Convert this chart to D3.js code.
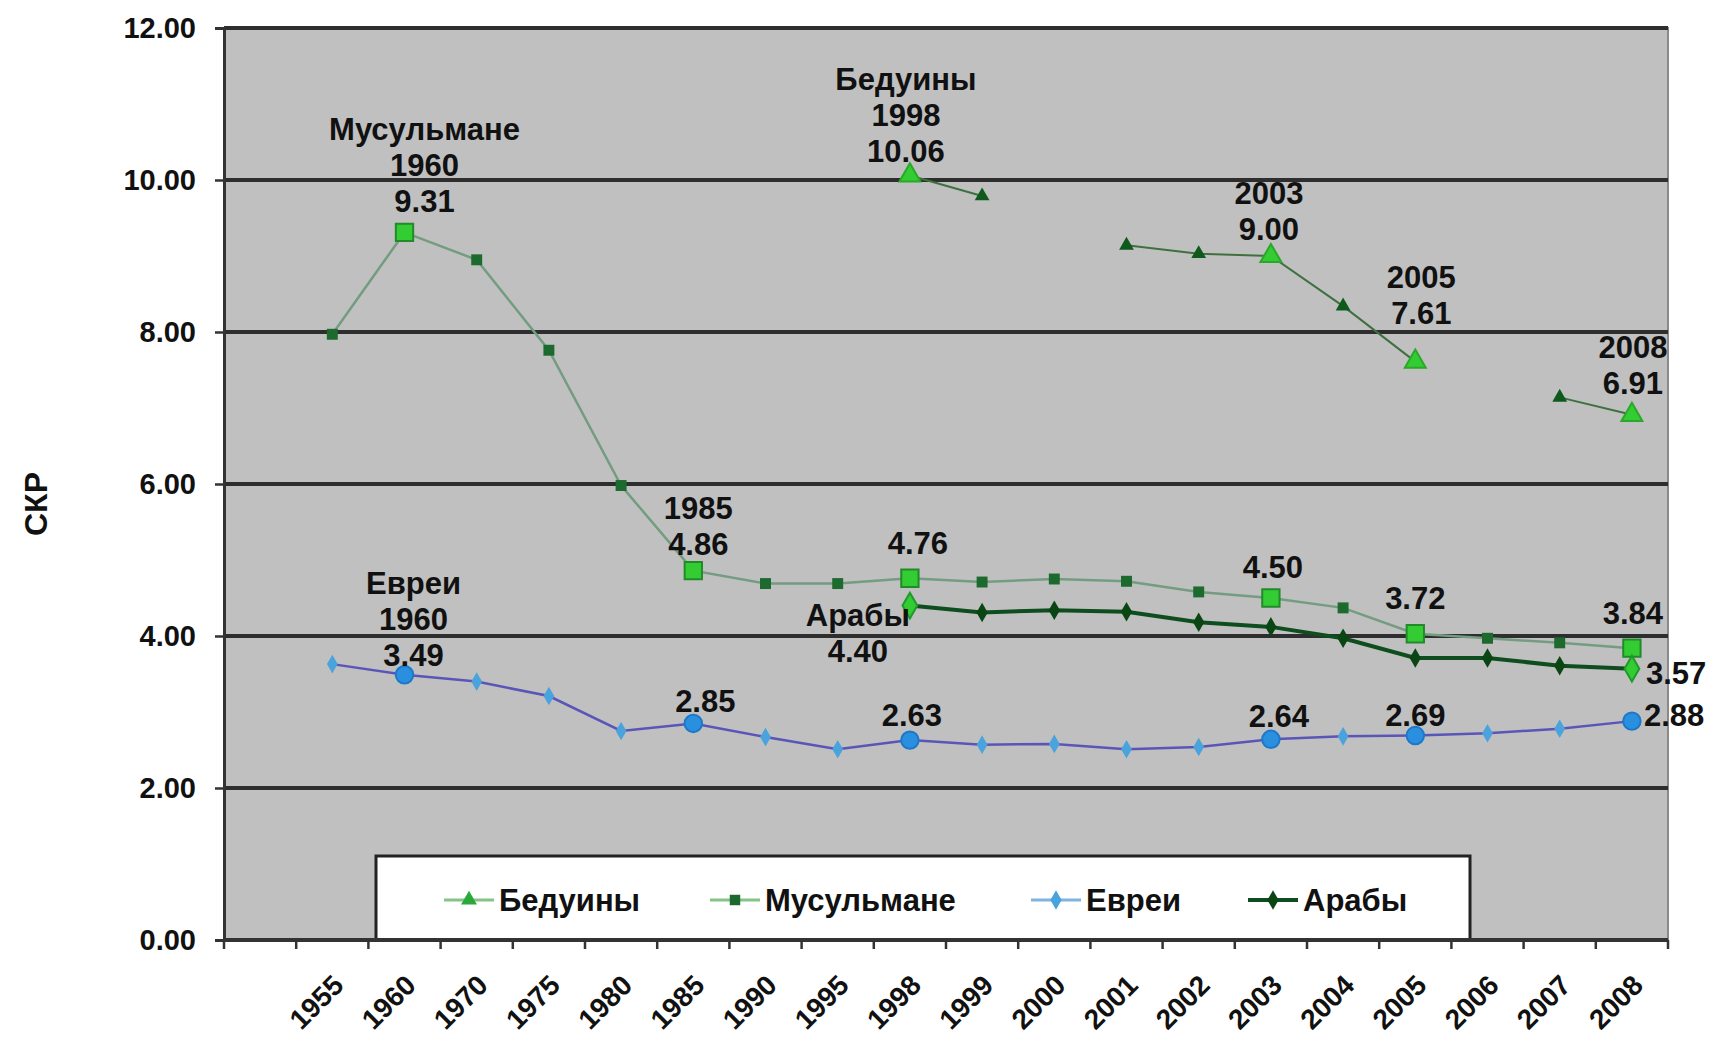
<!DOCTYPE html>
<html>
<head>
<meta charset="utf-8">
<script src="https://cdn.jsdelivr.net/npm/d3@7"></script>
<style>
body { margin: 0; background: #fff; }
text { font-family: "Liberation Sans", Arial, sans-serif; font-weight: bold; fill: #111; }
</style>
</head>
<body>
<svg width="1710" height="1040"></svg>
<script>
// first category is empty, as in the original sheet
const years = ["", "1955", "1960", "1970", "1975", "1980", "1985", "1990", "1995", "1998", "1999",
	"2000", "2001", "2002", "2003", "2004", "2005", "2006", "2007", "2008"];

const bedouins = [null, null, null, null, null, null, null, null, null, 10.06, 9.79,
	null, 9.14, 9.03, 9.00, 8.34, 7.61, null, 7.14, 6.91];
const muslims = [null, 7.97, 9.31, 8.95, 7.76, 5.98, 4.86, 4.69, 4.69, 4.76, 4.71,
	4.75, 4.72, 4.58, 4.50, 4.37, 4.03, 3.97, 3.91, 3.84];
const jews = [null, 3.63, 3.49, 3.40, 3.21, 2.75, 2.85, 2.67, 2.51, 2.63, 2.57,
	2.58, 2.51, 2.54, 2.64, 2.68, 2.69, 2.72, 2.78, 2.88];
const arabs = [null, null, null, null, null, null, null, null, null, 4.40, 4.31,
	4.34, 4.32, 4.18, 4.12, 3.97, 3.71, 3.71, 3.61, 3.57];

const yTicks = [0, 2, 4, 6, 8, 10, 12];

const series = [
	{ name: "Бедуины", values: bedouins, shape: d3.symbolTriangle, bigShape: d3.symbolTriangle, line: "#3f7040", lw: 2,
		mark: "#0d5a1c", hi: "#33cc33", hiStroke: "#2aa82a", big: ["1998", "2003", "2005", "2008"] },
	{ name: "Мусульмане", values: muslims, shape: d3.symbolSquare, bigShape: d3.symbolSquare, line: "#739c80", lw: 2.5,
		mark: "#1d6a2e", hi: "#33cc33", hiStroke: "#238a2a", big: ["1960", "1985", "1998", "2003", "2005", "2008"] },
	{ name: "Евреи", values: jews, shape: d3.symbolDiamond, bigShape: d3.symbolCircle, line: "#5a55b8", lw: 2.5,
		mark: "#4aa3dc", hi: "#2b8fe0", hiStroke: "#1c78c8", big: ["1960", "1985", "1998", "2003", "2005", "2008"] },
	{ name: "Арабы", values: arabs, shape: d3.symbolDiamond, bigShape: d3.symbolDiamond, line: "#0e4d1e", lw: 4,
		mark: "#0a4514", hi: "#33cc33", hiStroke: "#1f9a2a", big: ["1998", "2008"] }
];

// data labels: series, category, text lines, offset of the first line centre from the point
const notes = [
	{ s: "Мусульмане", year: "1960", lines: ["Мусульмане", "1960", "9.31"], dx: 20, dy: -104 },
	{ s: "Бедуины", year: "1998", lines: ["Бедуины", "1998", "10.06"], dx: -4, dy: -97 },
	{ s: "Бедуины", year: "2003", lines: ["2003", "9.00"], dx: -2, dy: -63 },
	{ s: "Бедуины", year: "2005", lines: ["2005", "7.61"], dx: 6, dy: -85 },
	{ s: "Бедуины", year: "2008", lines: ["2008", "6.91"], dx: 1, dy: -68 },
	{ s: "Мусульмане", year: "1985", lines: ["1985", "4.86"], dx: 5, dy: -63 },
	{ s: "Мусульмане", year: "1998", lines: ["4.76"], dx: 8, dy: -35 },
	{ s: "Мусульмане", year: "2003", lines: ["4.50"], dx: 2, dy: -31 },
	{ s: "Мусульмане", year: "2005", lines: ["3.72"], dx: 0, dy: -36 },
	{ s: "Мусульмане", year: "2008", lines: ["3.84"], dx: 1, dy: -35 },
	{ s: "Арабы", year: "1998", lines: ["Арабы", "4.40"], dx: -52, dy: 9 },
	{ s: "Арабы", year: "2008", lines: ["3.57"], dx: 14, dy: 4, anchor: "start" },
	{ s: "Евреи", year: "1960", lines: ["Евреи", "1960", "3.49"], dx: 9, dy: -92 },
	{ s: "Евреи", year: "1985", lines: ["2.85"], dx: 12, dy: -23 },
	{ s: "Евреи", year: "1998", lines: ["2.63"], dx: 2, dy: -25 },
	{ s: "Евреи", year: "2003", lines: ["2.64"], dx: 8, dy: -24 },
	{ s: "Евреи", year: "2005", lines: ["2.69"], dx: 0, dy: -21 },
	{ s: "Евреи", year: "2008", lines: ["2.88"], dx: 12, dy: -6, anchor: "start" }
];

const plotLeft = 224, plotRight = 1668, plotTop = 28, plotBottom = 940;

const svg = d3.select("svg");

const x = d3.scaleBand()
	.domain(years)
	.range([plotLeft, plotRight]);

const y = d3.scaleLinear()
	.domain([0, 12])
	.range([plotBottom, plotTop]);

const cx = yr => x(yr) + x.bandwidth() / 2;

// plot area
svg.append("rect")
	.attr("x", plotLeft)
	.attr("y", plotTop)
	.attr("width", plotRight - plotLeft)
	.attr("height", plotBottom - plotTop)
	.attr("fill", "#c0c0c0")
	.attr("stroke", "#8a8a8a")
	.attr("stroke-width", 2);

svg.append("g")
	.selectAll("line")
	.data(yTicks.filter(d => d > 0))
	.join("line")
	.attr("x1", plotLeft)
	.attr("x2", plotRight)
	.attr("y1", d => y(d))
	.attr("y2", d => y(d))
	.attr("stroke", "#2e2e2e")
	.attr("stroke-width", 4);

// legend box sits on the plot
const legend = svg.append("g");
legend.append("rect")
	.attr("x", 376)
	.attr("y", 856)
	.attr("width", 1094)
	.attr("height", 84)
	.attr("fill", "#fff")
	.attr("stroke", "#222")
	.attr("stroke-width", 3);

// y axis
const yAxis = svg.append("g")
	.attr("transform", `translate(${plotLeft},0)`)
	.call(d3.axisLeft(y).tickValues(yTicks).tickFormat(d3.format(".2f")).tickSize(9).tickPadding(19));
yAxis.select(".domain").attr("stroke", "#333").attr("stroke-width", 3);
yAxis.selectAll(".tick line").attr("stroke", "#333").attr("stroke-width", 2.5);
yAxis.selectAll(".tick text")
	.attr("fill", "#111")
	.style("font-size", "29px")
	.style("font-family", "'Liberation Sans', Arial, sans-serif")
	.style("font-weight", "bold");

// x axis: ticks between categories, rotated labels
const bounds = years.map(d => x(d)).concat([plotRight]);
svg.append("line")
	.attr("x1", plotLeft)
	.attr("x2", plotRight)
	.attr("y1", plotBottom)
	.attr("y2", plotBottom)
	.attr("stroke", "#333")
	.attr("stroke-width", 4);
svg.append("g")
	.selectAll("line")
	.data(bounds)
	.join("line")
	.attr("x1", d => d)
	.attr("x2", d => d)
	.attr("y1", plotBottom)
	.attr("y2", plotBottom + 9)
	.attr("stroke", "#333")
	.attr("stroke-width", 2.5);
svg.append("g")
	.selectAll("text")
	.data(years.filter(d => d !== ""))
	.join("text")
	.attr("transform", d => `translate(${cx(d) + 6},${plotBottom + 40}) rotate(-45)`)
	.attr("text-anchor", "end")
	.attr("dy", "0.35em")
	.style("font-size", "28px")
	.text(d => d);

svg.append("text")
	.attr("transform", `translate(36,${(plotTop + plotBottom) / 2 + 20}) rotate(-90)`)
	.attr("text-anchor", "middle")
	.attr("dy", "0.35em")
	.style("font-size", "32px")
	.text("СКР");

// lines and markers
const line = d3.line()
	.defined(d => d.v != null)
	.x(d => cx(d.year))
	.y(d => y(d.v));

const sizeOf = (s, big) => {
	if (s.shape === d3.symbolSquare) return big ? 300 : 120;
	if (s.shape === d3.symbolTriangle) return big ? 190 : 95;
	if (s.name === "Евреи") return big ? 240 : 100;
	return big ? 190 : 110;
};

for (const s of series) {
	const pts = years.map((yr, i) => ({ year: yr, v: s.values[i] }));
	svg.append("path")
		.datum(pts)
		.attr("fill", "none")
		.attr("stroke", s.line)
		.attr("stroke-width", s.lw)
		.attr("d", line);

	svg.append("g")
		.selectAll("path")
		.data(pts.filter(d => d.v != null))
		.join("path")
		.attr("transform", d => `translate(${cx(d.year)},${y(d.v)})`)
		.attr("d", d => {
			const big = s.big.includes(d.year);
			return d3.symbol(big ? s.bigShape : s.shape, sizeOf(s, big))();
		})
		.attr("fill", d => s.big.includes(d.year) ? s.hi : s.mark)
		.attr("stroke", d => s.big.includes(d.year) ? s.hiStroke : "none")
		.attr("stroke-width", 2);
}

// data labels
const byName = new Map(series.map(s => [s.name, s]));
for (const n of notes) {
	const s = byName.get(n.s);
	const v = s.values[years.indexOf(n.year)];
	const px = cx(n.year) + n.dx;
	const py = y(v) + n.dy;
	n.lines.forEach((t, i) => {
		svg.append("text")
			.attr("x", px)
			.attr("y", py + i * 36)
			.attr("dy", "0.36em")
			.attr("text-anchor", n.anchor || "middle")
			.style("font-size", "31px")
			.text(t);
	});
}

// legend items
const legendItems = [
	{ s: series[0], x: 444 },
	{ s: series[1], x: 710 },
	{ s: series[2], x: 1031 },
	{ s: series[3], x: 1248 }
];
for (const it of legendItems) {
	const ly = 900;
	legend.append("line")
		.attr("x1", it.x)
		.attr("x2", it.x + 50)
		.attr("y1", ly)
		.attr("y2", ly)
		.attr("stroke", it.s.name === "Арабы" ? it.s.line : (it.s.name === "Евреи" ? "#7fb3e0" : "#86c486"))
		.attr("stroke-width", it.s.name === "Арабы" ? 4 : 3);
	legend.append("path")
		.attr("transform", `translate(${it.x + 25},${ly})`)
		.attr("d", d3.symbol(it.s.shape, 110)())
		.attr("fill", it.s.name === "Бедуины" ? "#2aa83a" : it.s.mark);
	legend.append("text")
		.attr("x", it.x + 55)
		.attr("y", ly)
		.attr("dy", "0.36em")
		.style("font-size", "31px")
		.text(it.s.name);
}
</script>
</body>
</html>
